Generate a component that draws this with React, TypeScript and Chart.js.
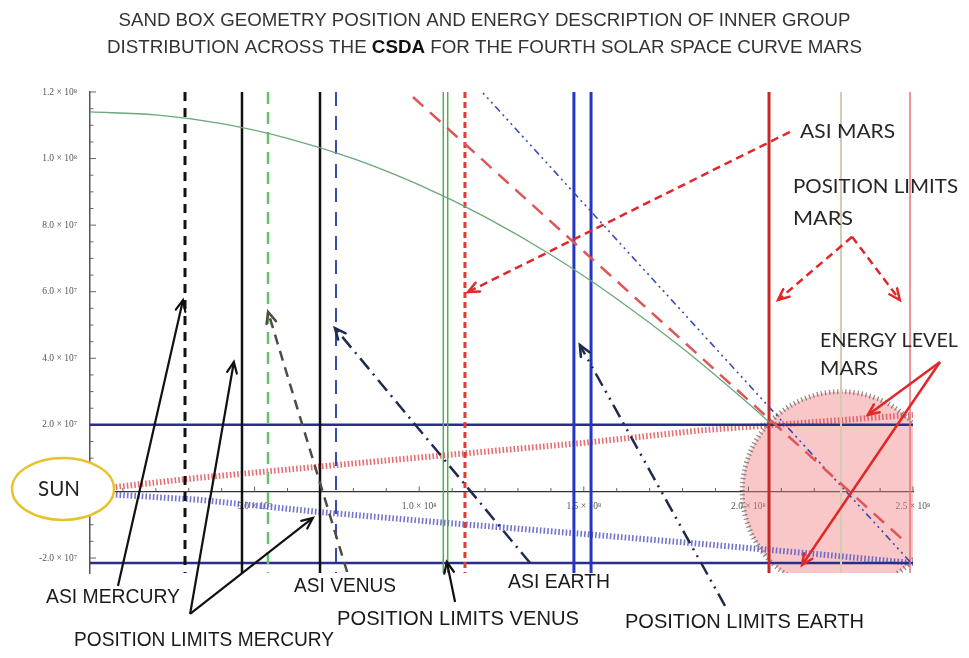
import React, { useEffect, useRef } from 'react';
import { Chart, registerables } from 'chart.js';

Chart.register(...registerables);

// ---------- text ----------
const TITLE_LINE_1 = 'SAND BOX GEOMETRY POSITION AND ENERGY DESCRIPTION OF INNER GROUP';
const TITLE_LINE_2 = ['DISTRIBUTION ACROSS THE ', 'CSDA', ' FOR THE FOURTH SOLAR SPACE CURVE MARS'];

// ---------- axes ----------
const X_RANGE = [0, 2.5e8];
const Y_RANGE = [-2.45e7, 1.2e8];
const X_STEP = 1e7;
const Y_STEP = 5e6;
const xTickValues = [5e7, 1e8, 1.5e8, 2e8, 2.5e8];
const xTickLabels = ['5.0 × 10⁷', '1.0 × 10⁸', '1.5 × 10⁸', '2.0 × 10⁸', '2.5 × 10⁸'];
const yTickValues = [1.2e8, 1.0e8, 8e7, 6e7, 4e7, 2e7, -2e7];
const yTickLabels = ['1.2 × 10⁸', '1.0 × 10⁸', '8.0 × 10⁷', '6.0 × 10⁷', '4.0 × 10⁷', '2.0 × 10⁷', '-2.0 × 10⁷'];

// ---------- data ----------
const energyCurveX = [0, 2e7, 4e7, 6e7, 8e7, 1.0e8, 1.2e8, 1.4e8, 1.6e8, 1.8e8, 2.0e8, 2.066e8];
const energyCurveY = [1.14e8, 1.131e8, 1.105e8, 1.061e8, 1.0e8, 9.21e7, 8.25e7, 7.11e7, 5.79e7, 4.3e7, 2.64e7, 2.06e7];

const redBandX = [0, 3.3e7, 7.0e7, 1.09e8, 1.49e8, 1.85e8, 2.15e8, 2.5e8];
const redBandY = [5e5, 4.1e6, 7.5e6, 1.1e7, 1.45e7, 1.83e7, 2.05e7, 2.3e7];
const blueBandX = [0, 3.3e7, 7.0e7, 1.09e8, 1.49e8, 1.85e8, 2.15e8, 2.5e8];
const blueBandY = [-5e5, -2.5e6, -6.2e6, -9.5e6, -1.27e7, -1.57e7, -1.83e7, -2.15e7];

const boundaryY = [2.0e7, -2.15e7];

const verticalLineNames = [
  'ASI Mercury', 'Limit Mercury 1', 'Venus dashed', 'Limit Mercury 2', 'ASI Venus',
  'Limit Venus 1', 'Limit Venus 2', 'ASI Earth', 'Limit Earth 1', 'Limit Earth 2',
  'Limit Mars 1', 'ASI Mars centre', 'Limit Mars 2',
];
const verticalLineX = [2.886e7, 4.617e7, 5.407e7, 6.987e7, 7.473e7, 1.0732e8, 1.0866e8, 1.139e8, 1.47e8, 1.522e8, 2.0626e8, 2.2813e8, 2.491e8];

const marsDiagonalX = [9.81e7, 2.47e8];
const marsDiagonalY = [1.185e8, -1.457e7];
const earthDiagonalX = [1.194e8, 2.5e8];
const earthDiagonalY = [1.197e8, -2.21e7];

const energyCircleCenter = [2.2813e8, 0];
const energyCircleRadius = 3.0e7;
const sunCenter = [-8.2e6, 7.5e5];
const sunRadii = [1.549e7, 9.31e6];

// ---------- annotations (data coordinates) ----------
const arrows = [
  { kind: 'black', from: [8.5e6, -2.84e7], to: [2.825e7, 5.75e7] },
  { kind: 'black', from: [3.04e7, -3.68e7], to: [4.37e7, 3.89e7] },
  { kind: 'black', from: [3.04e7, -3.68e7], to: [6.77e7, -7.96e6] },
  { kind: 'venus', from: [7.81e7, -2.42e7], to: [5.41e7, 5.39e7] },
  { kind: 'earth', from: [1.337e8, -2.15e7], to: [7.44e7, 4.91e7] },
  { kind: 'black', from: [1.109e8, -3.32e7], to: [1.084e8, -2.12e7] },
  { kind: 'earth2', from: [1.929e8, -3.44e7], to: [1.488e8, 4.4e7] },
  { kind: 'redDash', from: [2.126e8, 1.08e8], to: [1.148e8, 5.99e7] },
  { kind: 'redDash', from: [2.315e8, 7.65e7], to: [2.09e8, 5.75e7] },
  { kind: 'redDash', from: [2.315e8, 7.65e7], to: [2.46e8, 5.75e7] },
  { kind: 'red', from: [2.582e8, 3.89e7], to: [2.363e8, 2.3e7] },
  { kind: 'red', from: [2.582e8, 3.89e7], to: [2.163e8, -2.21e7] },
];

const labels = [
  { kind: 'mars', text: 'ASI MARS', x: 2.157e8, y: 1.08e8, w: 2.886e7 },
  { kind: 'mars', text: 'POSITION LIMITS', x: 2.1355e8, y: 9.15e7, w: 5.012e7 },
  { kind: 'mars', text: 'MARS', x: 2.1355e8, y: 8.19e7, w: 1.823e7 },
  { kind: 'mars', text: 'ENERGY LEVEL', x: 2.2175e8, y: 4.52e7, w: 4.192e7 },
  { kind: 'mars', text: 'MARS', x: 2.2175e8, y: 3.68e7, w: 1.762e7 },
  { kind: 'sun', text: 'SUN', x: -1.58e7, y: 7.5e5, w: 1.276e7 },
  { kind: 'inner', text: 'ASI MERCURY', x: -1.337e7, y: -3.2e7, w: 4.07e7 },
  { kind: 'inner', text: 'POSITION LIMITS MERCURY', x: -4.86e6, y: -4.49e7, w: 7.9e7 },
  { kind: 'inner', text: 'ASI VENUS', x: 6.197e7, y: -2.87e7, w: 3.098e7 },
  { kind: 'inner', text: 'POSITION LIMITS VENUS', x: 7.503e7, y: -3.86e7, w: 7.35e7 },
  { kind: 'inner', text: 'ASI EARTH', x: 1.27e8, y: -2.72e7, w: 3.098e7 },
  { kind: 'inner', text: 'POSITION LIMITS EARTH', x: 1.625e8, y: -3.95e7, w: 7.26e7 },
];

// ---------- styles ----------
const verticalStyles = [
  { color: '#111111', width: 3, dash: [9, 7] },
  { color: '#111111', width: 2.5, dash: [] },
  { color: '#6abf69', width: 2.5, dash: [12, 8] },
  { color: '#111111', width: 2.5, dash: [] },
  { color: '#3b4aa8', width: 2, dash: [14, 10] },
  { color: '#4caf50', width: 1.5, dash: [] },
  { color: '#4caf50', width: 1.5, dash: [] },
  { color: '#e53935', width: 3, dash: [6, 4] },
  { color: '#2437c0', width: 3, dash: [] },
  { color: '#2437c0', width: 3, dash: [] },
  { color: '#c62828', width: 3, dash: [] },
  { color: '#d3ccb0', width: 2, dash: [] },
  { color: '#e57373', width: 1.5, dash: [] },
];

const arrowStyles: Record<string, { color: string; width: number; dash: number[] }> = {
  black: { color: '#111111', width: 2.2, dash: [] },
  venus: { color: '#4d4d40', width: 2.5, dash: [10, 7] },
  earth: { color: '#1e2b4f', width: 2.5, dash: [14, 6, 2, 6] },
  earth2: { color: '#1e2b4f', width: 2.5, dash: [14, 6, 2, 6, 2, 6] },
  redDash: { color: '#e0282a', width: 2.5, dash: [8, 5] },
  red: { color: '#e0282a', width: 2.5, dash: [] },
};

const labelFonts: Record<string, { font: string; color: string }> = {
  mars: { font: '19px Lato', color: '#262626' },
  sun: { font: '21px Lato', color: '#222222' },
  inner: { font: '20px "Liberation Sans"', color: '#1a1a1a' },
};

const pts = (xs: number[], ys: number[]) => xs.map((x, i) => ({ x, y: ys[i] }));

function fitText(ctx: CanvasRenderingContext2D, text: string, left: number, cy: number, width: number, font: string, color: string) {
  ctx.save();
  ctx.font = font;
  const w = ctx.measureText(text).width;
  ctx.translate(left, cy);
  ctx.scale(width / w, 1);
  ctx.fillStyle = color;
  ctx.textBaseline = 'middle';
  ctx.textAlign = 'left';
  ctx.fillText(text, 0, 0);
  ctx.restore();
}

function drawArrow(ctx: CanvasRenderingContext2D, x1: number, y1: number, x2: number, y2: number, st: { color: string; width: number; dash: number[] }) {
  ctx.save();
  ctx.strokeStyle = st.color;
  ctx.lineWidth = st.width;
  ctx.lineCap = 'butt';
  ctx.setLineDash(st.dash);
  ctx.beginPath();
  ctx.moveTo(x1, y1);
  ctx.lineTo(x2, y2);
  ctx.stroke();
  ctx.setLineDash([]);
  const a = Math.atan2(y2 - y1, x2 - x1);
  const h = 12;
  ctx.lineCap = 'round';
  ctx.beginPath();
  ctx.moveTo(x2 - h * Math.cos(a - 0.42), y2 - h * Math.sin(a - 0.42));
  ctx.lineTo(x2, y2);
  ctx.lineTo(x2 - h * Math.cos(a + 0.42), y2 - h * Math.sin(a + 0.42));
  ctx.stroke();
  ctx.restore();
}

const stepTicks = (from: number, to: number, step: number) => {
  const out: { value: number }[] = [];
  const start = Math.ceil(from / step);
  const end = Math.floor(to / step);
  for (let k = start; k <= end; k++) out.push({ value: k * step });
  return out;
};

const sketchPlugin = {
  id: 'sketchPlugin',
  beforeDatasetsDraw(chart: any) {
    const { ctx, chartArea, scales } = chart;
    const x = scales.x, y = scales.y;
    ctx.save();
    ctx.beginPath();
    ctx.rect(chartArea.left, chartArea.top, chartArea.right - chartArea.left, chartArea.bottom - chartArea.top);
    ctx.clip();
    const cx = x.getPixelForValue(energyCircleCenter[0]);
    const cy = y.getPixelForValue(energyCircleCenter[1]);
    const rx = Math.abs(x.getPixelForValue(energyCircleCenter[0] + energyCircleRadius) - cx);
    const ry = Math.abs(y.getPixelForValue(energyCircleCenter[1] + energyCircleRadius) - cy);
    ctx.beginPath();
    ctx.ellipse(cx, cy, rx, ry, 0, 0, Math.PI * 2);
    ctx.fillStyle = 'rgba(242,130,130,0.45)';
    ctx.fill();
    ctx.setLineDash([1.3, 2.8]);
    ctx.lineWidth = 5;
    ctx.strokeStyle = 'rgba(70,70,70,0.6)';
    ctx.stroke();
    ctx.restore();

    // custom inner ticks
    ctx.save();
    ctx.strokeStyle = '#666';
    ctx.lineWidth = 1;
    const left = chartArea.left;
    y.ticks.forEach((t: any) => {
      const py = y.getPixelForValue(t.value);
      const major = yTickValues.some((v) => Math.abs(v - t.value) < 1000);
      ctx.beginPath();
      ctx.moveTo(left, py);
      ctx.lineTo(left + (major ? 6 : 3.5), py);
      ctx.stroke();
    });
    const y0 = y.getPixelForValue(0);
    x.ticks.forEach((t: any) => {
      const px = x.getPixelForValue(t.value);
      const major = xTickValues.some((v) => Math.abs(v - t.value) < 1000);
      ctx.beginPath();
      ctx.moveTo(px, y0);
      ctx.lineTo(px, y0 - (major ? 5 : 3.5));
      ctx.stroke();
    });
    ctx.restore();
  },
  afterDraw(chart: any) {
    const { ctx, scales, width } = chart;
    const x = scales.x, y = scales.y;

    // title
    const cxTitle = width / 2;
    ctx.save();
    fitText(ctx, TITLE_LINE_1, cxTitle - 366, 21, 732, '18px "Liberation Sans"', '#333333');
    const fonts2 = ['18px "Liberation Sans"', 'bold 18px "Liberation Sans"', '18px "Liberation Sans"'];
    const widths2 = TITLE_LINE_2.map((t, i) => { ctx.font = fonts2[i]; return ctx.measureText(t).width; });
    const total2 = widths2.reduce((a, b) => a + b, 0);
    const target2 = 755;
    const k = target2 / total2;
    let cursor = cxTitle - target2 / 2;
    TITLE_LINE_2.forEach((t, i) => {
      fitText(ctx, t, cursor, 48, widths2[i] * k, fonts2[i], i === 1 ? '#111111' : '#333333');
      cursor += widths2[i] * k;
    });
    ctx.restore();

    // arrows
    arrows.forEach((a) => {
      drawArrow(ctx,
        x.getPixelForValue(a.from[0]), y.getPixelForValue(a.from[1]),
        x.getPixelForValue(a.to[0]), y.getPixelForValue(a.to[1]),
        arrowStyles[a.kind]);
    });

    // sun ellipse
    const sx = x.getPixelForValue(sunCenter[0]);
    const sy = y.getPixelForValue(sunCenter[1]);
    const srx = Math.abs(x.getPixelForValue(sunCenter[0] + sunRadii[0]) - sx);
    const sry = Math.abs(y.getPixelForValue(sunCenter[1] + sunRadii[1]) - sy);
    ctx.save();
    ctx.beginPath();
    ctx.ellipse(sx, sy, srx, sry, 0, 0, Math.PI * 2);
    ctx.fillStyle = '#ffffff';
    ctx.fill();
    ctx.lineWidth = 2.5;
    ctx.strokeStyle = '#e8c22e';
    ctx.stroke();
    ctx.restore();

    // labels
    labels.forEach((l) => {
      const left = x.getPixelForValue(l.x);
      const right = x.getPixelForValue(l.x + l.w);
      const cy = y.getPixelForValue(l.y);
      const f = labelFonts[l.kind];
      fitText(ctx, l.text, left, cy, right - left, f.font, f.color);
    });
  },
};

export default function App() {
  const ref = useRef<HTMLCanvasElement | null>(null);
  useEffect(() => {
    if (!ref.current) return;
    const lineDs = (label: string, data: any[], color: string, width: number, dash: number[], extra: any = {}) => ({
      label, data, showLine: true, borderColor: color, backgroundColor: color, borderWidth: width,
      borderDash: dash, pointRadius: 0, fill: false, borderCapStyle: 'butt', ...extra,
    });
    const datasets: any[] = [];
    datasets.push(lineDs('Energy curve', pts(energyCurveX, energyCurveY), '#6aa87a', 1.3, [], { tension: 0.4, cubicInterpolationMode: 'monotone' }));
    datasets.push(lineDs('Mars diagonal', pts(marsDiagonalX, marsDiagonalY), '#e05555', 2.5, [14, 9]));
    datasets.push(lineDs('Earth diagonal', pts(earthDiagonalX, earthDiagonalY), '#3a4ab0', 1.6, [2, 4, 2, 4, 2, 4, 7, 4]));
    verticalLineX.forEach((vx, i) => {
      const st = verticalStyles[i];
      datasets.push(lineDs(verticalLineNames[i], [{ x: vx, y: Y_RANGE[1] }, { x: vx, y: Y_RANGE[0] }], st.color, st.width, st.dash));
    });
    boundaryY.forEach((by, i) => {
      datasets.push(lineDs('Boundary ' + (i + 1), [{ x: X_RANGE[0], y: by }, { x: X_RANGE[1], y: by }], '#262f8c', 2.5, []));
    });
    datasets.push(lineDs('Upper energy band', pts(redBandX, redBandY), 'rgba(225,85,90,0.85)', 6, [1.6, 2.1]));
    datasets.push(lineDs('Lower energy band', pts(blueBandX, blueBandY), 'rgba(90,90,200,0.85)', 6, [1.6, 2.1]));

    const tickFont = { family: '"Liberation Serif"', size: 9.5 };
    const chart = new Chart(ref.current, {
      type: 'scatter',
      data: { datasets },
      options: {
        animation: false,
        responsive: false,
        events: [],
        layout: { padding: { left: 0, top: 92, right: 56, bottom: 85 } },
        plugins: { legend: { display: false }, tooltip: { enabled: false }, title: { display: false } },
        scales: {
          x: {
            type: 'linear',
            min: X_RANGE[0],
            max: X_RANGE[1],
            position: { y: 0 } as any,
            grid: { display: false },
            border: { display: true, color: '#333', width: 1.2 },
            afterBuildTicks: (scale: any) => { scale.ticks = stepTicks(X_RANGE[0], X_RANGE[1], X_STEP); },
            ticks: {
              autoSkip: false,
              maxRotation: 0,
              padding: 1,
              color: '#555',
              font: tickFont,
              callback: (v: any) => {
                const i = xTickValues.findIndex((t) => Math.abs(t - Number(v)) < 1000);
                return i >= 0 ? xTickLabels[i] : '';
              },
            },
          },
          y: {
            type: 'linear',
            min: Y_RANGE[0],
            max: Y_RANGE[1],
            position: 'left',
            grid: { display: false },
            border: { display: true, color: '#555', width: 1.5 },
            afterFit: (scale: any) => { scale.width = 90; },
            afterBuildTicks: (scale: any) => { scale.ticks = stepTicks(Y_RANGE[0], Y_RANGE[1], Y_STEP); },
            ticks: {
              autoSkip: false,
              padding: 5,
              color: '#555',
              font: tickFont,
              callback: (v: any) => {
                const i = yTickValues.findIndex((t) => Math.abs(t - Number(v)) < 1000);
                return i >= 0 ? yTickLabels[i] : '';
              },
            },
          },
        },
      },
      plugins: [sketchPlugin],
    } as any);
    return () => chart.destroy();
  }, []);

  return (
    <div style={{ position: 'absolute', left: 0, top: 0, width: 969, height: 658, background: '#ffffff' }}>
      <canvas ref={ref} width={969} height={658} style={{ display: 'block' }} />
    </div>
  );
}
